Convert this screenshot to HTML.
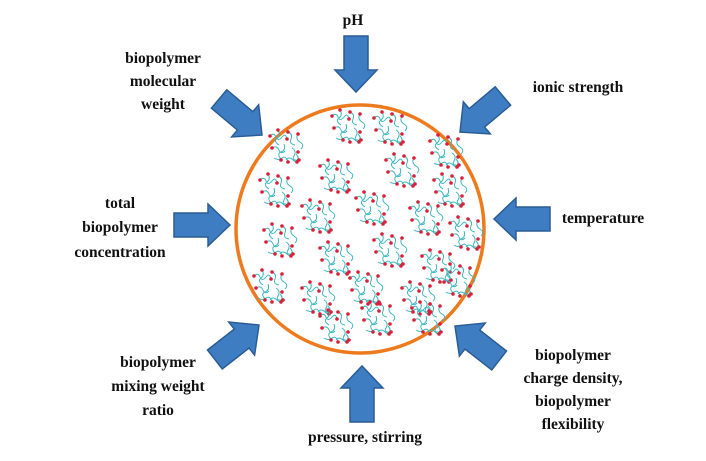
<!DOCTYPE html>
<html><head><meta charset="utf-8"><style>
html,body{margin:0;padding:0;background:#fff;}
svg{display:block;}
text{font-family:"Liberation Serif",serif;font-weight:bold;font-size:15.5px;fill:#111;text-anchor:middle;}
</style></head><body>
<svg width="706" height="461" viewBox="0 0 706 461" xmlns="http://www.w3.org/2000/svg">
<defs>
<g id="ar"><polygon points="-56,-12 -22,-12 -22,-21 0,0 -22,21 -22,12 -56,12" fill="#3f7dc2" stroke="#2a5d94" stroke-width="1.5"/></g>
<g id="cl" fill="none" stroke="#3cb8c0" stroke-width="1">
<path d="M2,8 q4,-4 6,1 t6,0 t5,3"/><path d="M10,2 q3,5 -1,8 t2,7"/>
<path d="M20,4 q5,2 3,7 t4,6"/><path d="M30,6 q-3,5 2,8 t1,7"/>
<path d="M4,20 q5,-3 7,2 t6,1"/><path d="M16,16 q2,6 -3,8 t1,8"/>
<path d="M24,20 q5,3 2,8 t5,4"/><path d="M6,30 q4,3 8,0 t6,4"/>
<path d="M18,32 q3,-4 7,0 t5,-2"/><path d="M28,26 q4,4 1,8"/>
<g fill="#d8203a" stroke="none">
<circle cx="2" cy="8" r="1.8"/><circle cx="10" cy="2" r="1.8"/><circle cx="20" cy="4" r="1.8"/><circle cx="30" cy="6" r="1.8"/>
<circle cx="4" cy="20" r="1.8"/><circle cx="13" cy="32" r="1.8"/><circle cx="31" cy="32" r="1.8"/><circle cx="20" cy="34" r="1.8"/>
<circle cx="30" cy="24" r="1.8"/><circle cx="29" cy="34" r="1.8"/><circle cx="19" cy="11" r="1.8"/>
</g></g>
</defs>
<circle cx="360" cy="229" r="124" fill="#fff" stroke="#ee7a1e" stroke-width="3.5"/>
<g>
<use href="#cl" x="268" y="128"/><use href="#cl" x="330" y="108"/><use href="#cl" x="372" y="110"/><use href="#cl" x="428" y="133"/>
<use href="#cl" x="258" y="172"/><use href="#cl" x="318" y="158"/><use href="#cl" x="384" y="152"/><use href="#cl" x="432" y="172"/>
<use href="#cl" x="300" y="198"/><use href="#cl" x="354" y="190"/><use href="#cl" x="408" y="200"/><use href="#cl" x="448" y="215"/>
<use href="#cl" x="262" y="222"/><use href="#cl" x="318" y="240"/><use href="#cl" x="372" y="232"/><use href="#cl" x="420" y="248"/>
<use href="#cl" x="252" y="268"/><use href="#cl" x="300" y="280"/><use href="#cl" x="348" y="270"/><use href="#cl" x="400" y="280"/>
<use href="#cl" x="440" y="262"/><use href="#cl" x="318" y="308"/><use href="#cl" x="360" y="300"/><use href="#cl" x="410" y="300"/>
</g>
<use href="#ar" transform="translate(356,92) rotate(90)"/>
<use href="#ar" transform="translate(262,135) rotate(40)"/>
<use href="#ar" transform="translate(460,132) rotate(140)"/>
<use href="#ar" transform="translate(494,219) rotate(180)"/>
<use href="#ar" transform="translate(230,225) rotate(0)"/>
<use href="#ar" transform="translate(259,325) rotate(-38)"/>
<use href="#ar" transform="translate(455,326) rotate(-142)"/>
<use href="#ar" transform="translate(362,366) rotate(-90)"/>
<text x="353" y="25">pH</text>
<text x="163" y="63">biopolymer</text><text x="163" y="86">molecular</text><text x="163" y="109">weight</text>
<text x="578" y="92">ionic strength</text>
<text x="603" y="223">temperature</text>
<text x="120" y="208">total</text><text x="120" y="232">biopolymer</text><text x="120" y="257">concentration</text>
<text x="158" y="367">biopolymer</text><text x="158" y="391">mixing weight</text><text x="158" y="415">ratio</text>
<text x="573" y="360">biopolymer</text><text x="573" y="383">charge density,</text><text x="573" y="406">biopolymer</text><text x="573" y="429">flexibility</text>
<text x="365" y="442">pressure, stirring</text>
</svg>
</body></html>
